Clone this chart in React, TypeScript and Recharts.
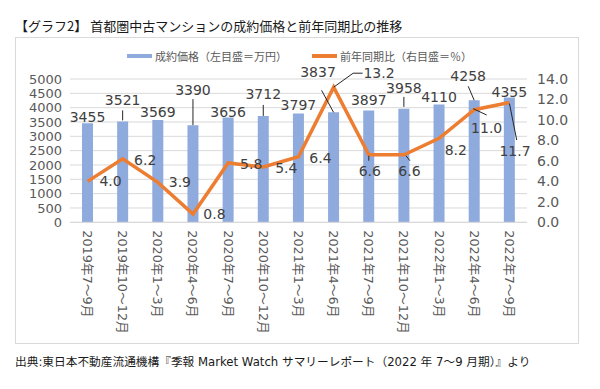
import React from "react";
import { ComposedChart, Bar, Line, XAxis, YAxis, CartesianGrid, LabelList } from "recharts";

const categories = [
  "2019年7～9月", "2019年10～12月", "2020年1～3月", "2020年4～6月", "2020年7～9月",
  "2020年10～12月", "2021年1～3月", "2021年4～6月", "2021年7～9月", "2021年10～12月",
  "2022年1～3月", "2022年4～6月", "2022年7～9月",
];
const prices = [3455, 3521, 3569, 3390, 3656, 3712, 3797, 3837, 3897, 3958, 4110, 4258, 4355];
const yoy = [4.0, 6.2, 3.9, 0.8, 5.8, 5.4, 6.4, 13.2, 6.6, 6.6, 8.2, 11.0, 11.7];
const leftTicks = [0, 500, 1000, 1500, 2000, 2500, 3000, 3500, 4000, 4500, 5000];
const rightTicks = [0, 2, 4, 6, 8, 10, 12, 14];

const data = categories.map((c, i) => ({ cat: c, price: prices[i], yoy: yoy[i] }));

// label placement (style): [dx, dy] of text centre from anchor, optional leader polyline
const barLabelPos: [number, number][] = [
  [0, -6], [0, -21], [0, -8], [0, -35], [0, -6], [0, -21.6], [0, -8.5],
  [-15.6, -40.6], [0, -10.6], [0, -21], [0, -7.5], [-6, -24], [0, -5.5],
];
const barLeaders: Record<number, number[][]> = {
  1: [[0, -11], [0, -1]],
  3: [[0, -26], [0, 0]],
  5: [[0, -11], [0, 0]],
  7: [[-12, -22], [0, 0]],
  9: [[0, -12], [0, -2]],
  11: [[-6, -14], [0, 0]],
};
const lineLabelPos: [number, number][] = [
  [23, 0], [22.5, 1], [22, 0], [21.4, 0], [23, 0.7], [23, 0.7], [22, 1],
  [45.4, -14], [1, 16.6], [5.5, 16.6], [16.7, 11.6], [12.4, 17.8], [5.6, 48.3],
];
const lineLeaders: Record<number, number[][]> = {
  7: [[0, 0], [19.5, -14], [29, -14]],
  8: [[0, 1], [0, 6]],
  9: [[2, 1], [6, 6]],
  11: [[-1, -1], [12.4, 5.3]],
  12: [[0, 1], [7.3, 37.5]],
};

const FONT = "'DejaVu Sans', 'Noto Sans CJK JP', sans-serif";
const CJK = "'Noto Sans CJK JP', sans-serif";

const renderLeader = (pts: number[][] | undefined, ax: number, ay: number) =>
  pts ? (
    <polyline
      points={pts.map((p) => `${ax + p[0]},${ay + p[1]}`).join(" ")}
      fill="none"
      stroke="#262626"
      strokeWidth={1}
    />
  ) : null;

const BarLabel = (props: any) => {
  const { x, y, width, value, index } = props;
  const cx = Number(x) + Number(width) / 2;
  const top = Number(y);
  const [dx, dy] = barLabelPos[index] || [0, -6];
  return (
    <g>
      {renderLeader(barLeaders[index], cx, top)}
      <text x={cx + dx} y={top + dy} dy="0.36em" textAnchor="middle" fontSize={14} fill="#404040" fontFamily={FONT}>
        {value}
      </text>
    </g>
  );
};

const LineLabel = (props: any) => {
  const { x, y, value, index } = props;
  const px = Number(x);
  const py = Number(y);
  const [dx, dy] = lineLabelPos[index] || [20, 0];
  return (
    <g>
      {renderLeader(lineLeaders[index], px, py)}
      <text x={px + dx} y={py + dy} dy="0.36em" textAnchor="middle" fontSize={14} fill="#404040" fontFamily={FONT}>
        {Number(value).toFixed(1)}
      </text>
    </g>
  );
};

const XTick = (props: any) => {
  const { x, y, payload } = props;
  return (
    <g transform={`translate(${x},${y}) rotate(90)`}>
      <text x={0} y={0} dy="0.36em" textAnchor="start" fontSize={12.8} fill="#595959" fontFamily={FONT}>
        {payload.value}
      </text>
    </g>
  );
};

export default function App() {
  return (
    <div style={{ position: "fixed", left: 0, top: 0, width: 600, height: 389, background: "#fff", overflow: "hidden" }}>
      <div
        style={{
          position: "absolute", left: 15, top: 37, width: 562, height: 305,
          border: "1px solid #d9d9d9",
        }}
      />
      <div
        style={{
          position: "absolute", left: 15, top: 17, fontSize: 13, lineHeight: "17px", fontWeight: 400,
          fontFamily: CJK, color: "#1a1a1a", whiteSpace: "nowrap",
        }}
      >
        【グラフ2】 首都圏中古マンションの成約価格と前年同期比の推移
      </div>
      <div style={{ position: "absolute", left: 127, top: 54, width: 25, height: 4, background: "#8FAADC" }} />
      <div
        style={{
          position: "absolute", left: 155, top: 48, fontSize: 11, lineHeight: "16px",
          fontFamily: CJK, color: "#595959", whiteSpace: "nowrap",
        }}
      >
        成約価格（左目盛＝万円）
      </div>
      <div style={{ position: "absolute", left: 312, top: 54, width: 25, height: 4, background: "#ED7D31" }} />
      <div
        style={{
          position: "absolute", left: 340, top: 48, fontSize: 11, lineHeight: "16px",
          fontFamily: CJK, color: "#595959", whiteSpace: "nowrap",
        }}
      >
        前年同期比（右目盛＝％）
      </div>
      <div style={{ position: "absolute", left: 0, top: 0 }}>
        <ComposedChart width={600} height={389} data={data} margin={{ top: 79, right: 0, bottom: 0, left: 0 }}>
          <CartesianGrid yAxisId="left" vertical={false} stroke="#d9d9d9" />
          <XAxis
            dataKey="cat"
            interval={0}
            tickLine={false}
            axisLine={{ stroke: "#d9d9d9" }}
            height={166.7}
            tick={<XTick />}
          />
          <YAxis
            yAxisId="left"
            orientation="left"
            width={70}
            domain={[0, 5000]}
            ticks={leftTicks}
            interval={0}
            axisLine={false}
            tickLine={false}
            tick={{ fontSize: 13, fill: "#595959", fontFamily: FONT }}
          />
          <YAxis
            yAxisId="right"
            orientation="right"
            width={73}
            domain={[0, 14]}
            ticks={rightTicks}
            interval={0}
            axisLine={false}
            tickLine={false}
            tickMargin={4}
            tickFormatter={(v: number) => v.toFixed(1)}
            tick={{ fontSize: 14, fill: "#595959", fontFamily: FONT }}
          />
          <Bar yAxisId="left" dataKey="price" fill="#8FAADC" barSize={11} isAnimationActive={false}>
            <LabelList dataKey="price" content={<BarLabel />} />
          </Bar>
          <Line
            yAxisId="right"
            dataKey="yoy"
            type="linear"
            stroke="#ED7D31"
            strokeWidth={3.5}
            dot={false}
            activeDot={false}
            isAnimationActive={false}
          >
            <LabelList dataKey="yoy" content={<LineLabel />} />
          </Line>
        </ComposedChart>
      </div>
      <div
        style={{
          position: "absolute", left: 15, top: 354, fontSize: 11.7, lineHeight: "16px", fontWeight: 400,
          fontFamily: FONT, color: "#1a1a1a", whiteSpace: "nowrap",
        }}
      >
        出典:東日本不動産流通機構『季報 Market Watch サマリーレポート（2022 年 7～9 月期）』より
      </div>
    </div>
  );
}
